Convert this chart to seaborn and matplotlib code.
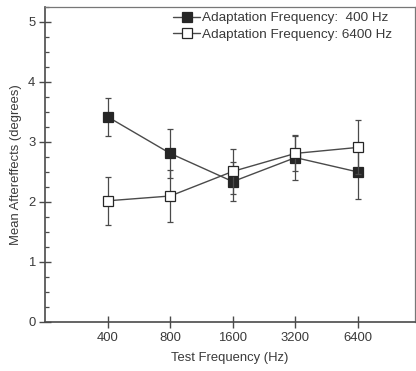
import numpy as np
import pandas as pd
import matplotlib
matplotlib.use("Agg")
import matplotlib.pyplot as plt
import seaborn as sns
from matplotlib.ticker import MultipleLocator

sns.set_theme(style="white")
plt.rcParams['font.family'] = ['Liberation Sans', 'DejaVu Sans']

test_freqs = ["400", "800", "1600", "3200", "6400"]
adapt400_mean = [3.42, 2.81, 2.34, 2.74, 2.50]
adapt400_err = [0.32, 0.41, 0.33, 0.37, 0.45]
adapt6400_mean = [2.02, 2.10, 2.51, 2.81, 2.91]
adapt6400_err = [0.40, 0.43, 0.37, 0.29, 0.45]
series_labels = ["Adaptation Frequency:  400 Hz", "Adaptation Frequency: 6400 Hz"]
y_ticks = [0, 1, 2, 3, 4, 5]

line_col = "#4a4a4a"
text_col = "#3a3a3a"

fig = plt.figure(figsize=(4.16, 3.71), dpi=100)
ax = fig.add_axes([45/416, 1 - 322/371, (415 - 45)/416, (322 - 7)/371])

pos = np.arange(len(test_freqs))
series = [
    (adapt400_mean, adapt400_err, series_labels[0], "#262626", 3),
    (adapt6400_mean, adapt6400_err, series_labels[1], "white", 4),
]
for mean, err, lab, face, z in series:
    df = pd.DataFrame({"x": pos, "y": mean})
    ax.errorbar(pos, mean, yerr=err, fmt="none", ecolor=line_col, elinewidth=0.9,
                capsize=2.5, capthick=0.9, zorder=z - 1)
    sns.lineplot(data=df, x="x", y="y", ax=ax, color=line_col, linewidth=1.0,
                 marker="s", markersize=7.5, markerfacecolor=face,
                 markeredgecolor="#262626", markeredgewidth=0.9, label=lab, zorder=z)

ax.set_xlim(-1.0, 4.91)
ax.set_ylim(0, 5.25)
ax.set_xticks(pos)
ax.set_xticklabels(test_freqs)
ax.set_yticks(y_ticks)
ax.yaxis.set_minor_locator(MultipleLocator(0.25))

ax.tick_params(axis="both", which="major", direction="inout", length=8, width=1.0,
               color=line_col, labelsize=9.4, labelcolor=text_col, pad=3)
ax.tick_params(axis="y", which="minor", direction="in", length=3, width=0.9,
               color=line_col, left=True)
ax.tick_params(axis="x", which="major", bottom=True)
ax.tick_params(axis="y", which="major", left=True)

ax.set_xlabel("Test Frequency (Hz)", fontsize=9.4, color=text_col, labelpad=6)
ax.set_ylabel("Mean Aftereffects (degrees)", fontsize=9.4, color=text_col, labelpad=4)

for side in ["left", "bottom"]:
    ax.spines[side].set_color(line_col)
    ax.spines[side].set_linewidth(1.2)
for side in ["top", "right"]:
    ax.spines[side].set_color("#777777")
    ax.spines[side].set_linewidth(0.9)

leg = ax.legend(loc="upper right", bbox_to_anchor=(0.96, 1.01), frameon=False,
                fontsize=9.7, handlelength=2.0, handletextpad=0.15,
                labelspacing=0.3, borderaxespad=0.2)
for t in leg.get_texts():
    t.set_color(text_col)

fig.savefig("out.png", dpi=100)
